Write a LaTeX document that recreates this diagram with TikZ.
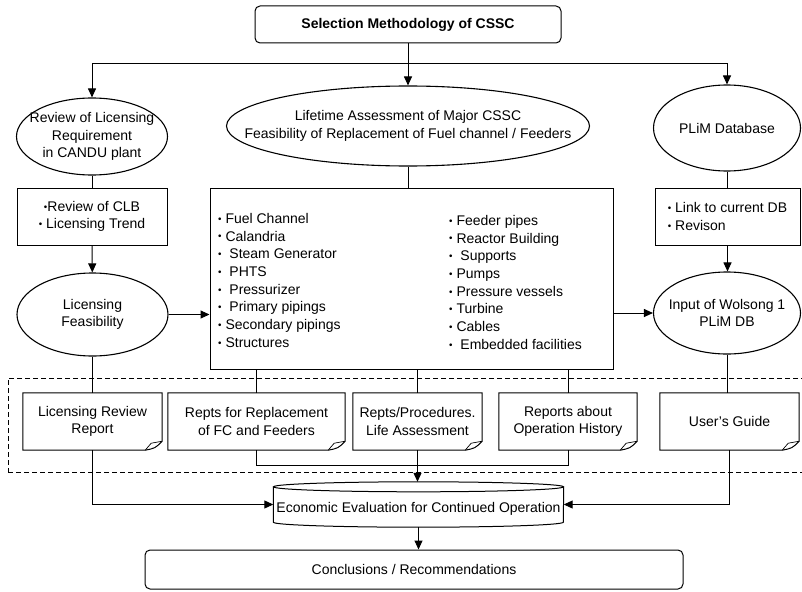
\documentclass[tikz,border=0pt]{standalone}
\usepackage{fontspec}
\setsansfont{Liberation Sans}
\usepackage{tikz}
\usetikzlibrary{arrows.meta,shapes.geometric}

\newcommand{\bul}{\raisebox{0.15ex}{\scalebox{0.7}{\textbullet}}}

\begin{document}
\begin{tikzpicture}[
  x=1pt,y=-1pt,
  every node/.style={font=\sffamily\fontsize{14}{17.7}\selectfont},
  box/.style={draw,line width=1pt,align=center,inner sep=0pt},
  rbox/.style={box,rounded corners=5pt},
  oval/.style={draw,ellipse,line width=1.1pt,inner sep=0pt},
  ovaltxt/.style={align=center,inner sep=0pt},
  doc/.style={align=center,inner sep=0pt,minimum height=57pt},
  flow/.style={-{Triangle[length=9pt,width=8pt]},line width=1pt},
  link/.style={line width=1pt},
  frame/.style={draw,line width=1pt,dash pattern=on 5pt off 3pt}
]
  \useasboundingbox (0,0) rectangle (802,591);
  \clip (0,0) rectangle (802,591);

  % top
  \node[rbox,minimum width=306pt,minimum height=37pt,
    font=\sffamily\bfseries\fontsize{14}{17}\selectfont] (sel) at (408,24.5)
    {Selection Methodology of CSSC};
  \coordinate (split) at (408,64);

  \node[oval,minimum width=151pt,minimum height=77pt,
    label={[ovaltxt]center:Review of Licensing\\Requirement\\in CANDU plant}] (rev) at (92,136.5) {};
  \node[oval,minimum width=363pt,minimum height=80pt,
    label={[ovaltxt]center:Lifetime Assessment of Major CSSC\\Feasibility of Replacement of Fuel channel / Feeders}] (lta) at (408,126) {};
  \node[oval,minimum width=147pt,minimum height=86pt,
    label={[ovaltxt]center:PLiM Database}] (plim) at (727,128) {};

  % second row
  \node[box,minimum width=150pt,minimum height=57pt] (clb) at (92,216.5)
    {\bul Review of CLB\\\bul\ Licensing Trend};
  \node[box,minimum width=403pt,minimum height=181pt] (items) at (411.5,278.5) {};
  \node[align=left,anchor=north west,inner sep=0pt] (itemsL) at (218,213)
    {\bul~Fuel Channel\\\bul~Calandria\\\bul~~Steam Generator\\\bul~~PHTS\\
     \bul~~Pressurizer\\\bul~~Primary pipings\\\bul~Secondary pipings\\\bul~Structures};
  \node[align=left,anchor=north west,inner sep=0pt] (itemsR) at (449,215)
    {\bul~Feeder pipes\\\bul~Reactor Building\\\bul~~Supports\\\bul~Pumps\\
     \bul~Pressure vessels\\\bul~Turbine\\\bul~Cables\\\bul~~Embedded facilities};
  \node[box,align=left,minimum width=145pt,minimum height=57pt] (db) at (727.5,216.5)
    {\bul\ Link to current DB\\\bul\ Revison};

  \node[oval,minimum width=151pt,minimum height=83pt,
    label={[ovaltxt]center:Licensing\\Feasibility}] (lf) at (92.5,314.5) {};
  \node[oval,minimum width=147pt,minimum height=82pt,
    label={[ovaltxt]center:Input of Wolsong 1\\PLiM DB}] (wol) at (727,313) {};

  % reports
  \node[frame,minimum width=804pt,minimum height=94pt] (outputs) at (410,425) {};
  \node[doc,minimum width=139pt] (rep1) at (92.5,421.5) {Licensing Review\\Report};
  \node[doc,minimum width=177pt] (rep2) at (256.5,421.5) {Repts for Replacement\\of FC and Feeders};
  \node[doc,minimum width=129pt] (rep3) at (417.5,421.5) {Repts/Procedures.\\Life Assessment};
  \node[doc,minimum width=138pt] (rep4) at (568,421.5) {Reports about\\Operation History};
  \node[doc,minimum width=139pt] (rep5) at (729.5,421.5) {User's Guide};
  \foreach \d in {rep1,rep2,rep3,rep4,rep5}{
    \draw[link] ([yshift=9pt]\d.south east) -- (\d.north east) -- (\d.north west)
      -- (\d.south west) -- ([xshift=-17pt]\d.south east)
      .. controls ([xshift=-7pt,yshift=2pt]\d.south east) .. ([yshift=9pt]\d.south east);
    \draw[line width=0.7pt] ([xshift=-17pt]\d.south east) -- ([xshift=-11pt,yshift=7pt]\d.south east)
      -- ([yshift=9pt]\d.south east);
  }

  % bottom
  \node[minimum width=290pt,minimum height=45pt,inner sep=0pt,
    label={[yshift=-4pt]center:Economic Evaluation for Continued Operation}] (eco) at (418.5,504.5) {};
  \draw[link] ([yshift=-5pt]eco.north west) -- ([yshift=5pt]eco.south west)
    arc[start angle=180,end angle=360,x radius=145pt,y radius=5pt]
    -- ([yshift=-5pt]eco.north east);
  \draw[link] ([yshift=-5pt]eco.north) ellipse[x radius=145pt,y radius=5pt];
  \node[rbox,minimum width=538pt,minimum height=39pt] (conc) at (414,569.5)
    {Conclusions / Recommendations};

  % connectors
  \draw[flow] (sel) -- (lta);
  \draw[flow] (split) -| (rev.north);
  \draw[flow] (split) -| (plim.north);
  \draw[link] (rev) -- (clb);
  \draw[link] (lta.south) -- (lta.south |- items.north);
  \draw[link] (plim.south) -- (plim.south |- db.north);
  \draw[flow] (clb) -- (lf);
  \draw[flow] (db.south) -- (db.south |- wol.north);
  \draw[flow] (lf.east) -- (lf.east -| items.west);
  \draw[flow] (items.east |- wol.west) -- (wol.west);
  \draw[link] (lf) -- (rep1);
  \draw[link] (items.south -| rep2.north) -- (rep2.north);
  \draw[link] (items.south -| rep3.north) -- (rep3.north);
  \draw[link] (items.south -| rep4.north) -- (rep4.north);
  \draw[link] (wol.south) -- (wol.south |- rep5.north);
  \draw[link] (rep2.south) -- ++(0,15) -| (rep4.south);
  \draw[flow] (rep3.south) -- (rep3.south |- eco.north);
  \draw[flow] (rep1.south) |- (eco.west);
  \draw[flow] (rep5.south) |- (eco.east);
  \draw[flow] (eco.south) -- (eco.south |- conc.north);
\end{tikzpicture}
\end{document}
